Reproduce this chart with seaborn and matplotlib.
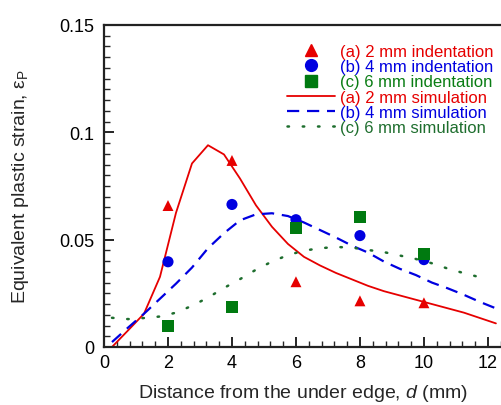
import numpy as np
import pandas as pd
import matplotlib
matplotlib.use("Agg")
import matplotlib.pyplot as plt
import seaborn as sns
from matplotlib.lines import Line2D
from matplotlib.ticker import MultipleLocator, FixedLocator

sns.set_style("white")
plt.rcParams['font.family'] = ['Liberation Sans', 'DejaVu Sans']
plt.rcParams['mathtext.fontset'] = 'custom'
plt.rcParams['mathtext.rm'] = 'Liberation Sans'
plt.rcParams['mathtext.it'] = 'Liberation Sans:italic'

# ---- measured indentation data ----
exp_x = [2, 4, 6, 8, 10]
exp_2mm = [0.0659, 0.0869, 0.0304, 0.0215, 0.0206]
exp_4mm = [0.0397, 0.0664, 0.0593, 0.0519, 0.0407]
exp_6mm = [0.0098, 0.0187, 0.0556, 0.0607, 0.0435]

# ---- simulation curves ----
sim_x = [0.25, 0.75, 1.25, 1.75, 2.25, 2.75, 3.25, 3.75, 4.25, 4.75, 5.25, 5.75,
         6.25, 6.75, 7.25, 7.75, 8.25, 8.75, 9.25, 9.75, 10.25, 10.75, 11.25,
         11.75, 12.25]
sim_2mm = [0.0, 0.0077, 0.0155, 0.0327, 0.0625, 0.0855, 0.0940, 0.0897, 0.0785,
           0.0660, 0.0560, 0.0480, 0.0420, 0.0380, 0.0345, 0.0315, 0.0285,
           0.0260, 0.0240, 0.0220, 0.0200, 0.0180, 0.0160, 0.0135, 0.0110]
sim_4mm = [0.0023, 0.0090, 0.0155, 0.0225, 0.0295, 0.0370, 0.0460, 0.0530,
           0.0590, 0.0618, 0.0623, 0.0610, 0.0580, 0.0545, 0.0510, 0.0472,
           0.0440, 0.0398, 0.0364, 0.0335, 0.0300, 0.0273, 0.0243, 0.0210,
           0.0180]
sim6_x = [0.25, 0.75, 1.25, 1.75, 2.25, 2.75, 3.25, 3.75, 4.25, 4.75, 5.25, 5.75,
          6.25, 6.75, 7.25, 7.75, 8.25, 8.75, 9.25, 9.75, 10.25, 10.75, 11.25,
          11.75, 12.0]
sim_6mm = [0.0136, 0.0130, 0.0135, 0.0142, 0.0160, 0.0192, 0.0230, 0.0275,
           0.0316, 0.0360, 0.0398, 0.0428, 0.0449, 0.0460, 0.0466, 0.0463,
           0.0452, 0.0442, 0.0426, 0.0410, 0.0390, 0.0365, 0.0344, 0.0325,
           0.0318]

labels_exp = ["(a) 2 mm indentation", "(b) 4 mm indentation", "(c) 6 mm indentation"]
labels_sim = ["(a) 2 mm simulation", "(b) 4 mm simulation", "(c) 6 mm simulation"]
x_ticks = [0, 2, 4, 6, 8, 10, 12]
y_ticks = [0, 0.05, 0.1, 0.15]
y_tick_labels = ["0", "0.05", "0.1", "0.15"]

RED = "#e60000"
BLUE = "#0000e0"
GREEN = "#0a7d14"
SQGREEN = "#007a10"
DGREEN = "#1e6e2e"
DASH = [5.5, 3.5]
DOT = [0.6, 5.5]

fig = plt.figure(figsize=(5.02, 4.06), dpi=100)
ax = fig.add_axes([104/502, 58/406, 1 - 104/502, (348-26)/406])

# simulations
sns.lineplot(x=sim_x, y=sim_2mm, ax=ax, color=RED, lw=1.3, linestyle='-', sort=False)
sns.lineplot(x=sim_x, y=sim_4mm, ax=ax, color=BLUE, lw=1.6, sort=False).lines[-1].set_dashes(DASH)
l6 = sns.lineplot(x=sim6_x, y=sim_6mm, ax=ax, color=DGREEN, lw=1.8, sort=False).lines[-1]
l6.set_dashes(DOT)
l6.set_dash_capstyle('round')

# indentation points
sns.scatterplot(x=exp_x, y=exp_2mm, ax=ax, color=RED, marker='^', s=62,
                edgecolor='none', zorder=5)
sns.scatterplot(x=exp_x, y=exp_4mm, ax=ax, color=BLUE, marker='o', s=64,
                edgecolor='none', zorder=5)
sns.scatterplot(x=exp_x, y=exp_6mm, ax=ax, color=SQGREEN, marker='s', s=75,
                edgecolor='none', zorder=5)

ax.set_xlim(0, 12.44)
ax.set_ylim(0, 0.15)
ax.xaxis.set_major_locator(FixedLocator(x_ticks))
ax.xaxis.set_minor_locator(MultipleLocator(0.4))
ax.yaxis.set_major_locator(FixedLocator(y_ticks))
ax.set_yticklabels(y_tick_labels)
ax.yaxis.set_minor_locator(MultipleLocator(0.005))
ax.tick_params(axis='both', which='major', direction='in', length=7, width=1.2,
               labelsize=13, colors='black', bottom=True, left=True)
ax.tick_params(axis='both', which='minor', direction='in', length=4, width=1.0,
               bottom=True, left=True)
ax.tick_params(axis='y', which='major', pad=7)
ax.tick_params(axis='x', which='major', pad=5)

for side in ['left', 'bottom', 'top']:
    ax.spines[side].set_visible(True)
    ax.spines[side].set_color('#222222')
    ax.spines[side].set_linewidth(1.6)
ax.spines['right'].set_visible(False)

ax.set_xlabel("Distance from the under edge, $d$ (mm)", fontsize=14, labelpad=8)
ax.set_ylabel("Equivalent plastic strain, ε$_\\mathrm{P}$", fontsize=14, labelpad=20)

handles = [
    Line2D([], [], linestyle='none', marker='^', color=RED, markersize=8.5),
    Line2D([], [], linestyle='none', marker='o', color=BLUE, markersize=8.5),
    Line2D([], [], linestyle='none', marker='s', color=SQGREEN, markersize=8.5),
    Line2D([], [], color=RED, lw=1.3),
    Line2D([], [], color=BLUE, lw=1.6, dashes=DASH),
    Line2D([], [], color=DGREEN, lw=1.8, dashes=DOT, dash_capstyle='round'),
]
leg_colors = [RED, BLUE, GREEN, RED, BLUE, DGREEN]
leg = ax.legend(handles, labels_exp + labels_sim, loc='upper right',
                bbox_to_anchor=(1.0, 0.967), frameon=False, fontsize=12,
                handlelength=2.9, handletextpad=0.3, labelspacing=0.015,
                borderaxespad=0.1)
for t, c in zip(leg.get_texts(), leg_colors):
    t.set_color(c)

fig.savefig("out.png", dpi=100)
